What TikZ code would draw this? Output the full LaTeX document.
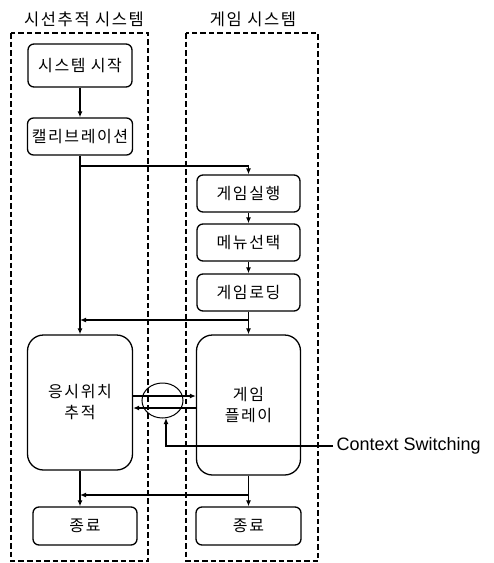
\documentclass[tikz,border=0pt]{standalone}
\usepackage{fontspec}
\setmainfont{Liberation Sans}
\newfontfamily\kr{Noto Sans CJK KR}[LetterSpace=10]
\usetikzlibrary{arrows.meta,shapes.geometric}

\begin{document}
\begin{tikzpicture}[x=1pt,y=-1pt,
  line width=1.3pt,
  arr/.style={-{Latex[length=6pt,width=5pt]}},
  stepbox/.style={draw, rounded corners=6pt, inner sep=0pt,
    font=\kr\fontsize{16}{18}\selectfont},
  bigbox/.style={draw, rounded corners=16pt, inner sep=0pt, align=center,
    font=\kr\fontsize{16}{21}\selectfont},
  sysframe/.style={draw, line width=2pt, dash pattern=on 5.5pt off 3pt},
  systitle/.style={font=\kr\fontsize{16.5}{20}\selectfont}
]
\useasboundingbox (0,0) rectangle (494,563);

% system frames and titles
\draw[sysframe] (11,33) rectangle (148,561);
\draw[sysframe] (186,33) rectangle (318,561);
\node[systitle] (t1) at (84,19) {시선추적 시스템};
\node[systitle] (t2) at (253,19) {게임 시스템};

% eye tracking side
\node[stepbox, minimum width=104pt, minimum height=43pt] (start) at (80,65.5) {시스템 시작};
\node[stepbox, minimum width=105pt, minimum height=37pt] (calib) at (80,136.5) {캘리브레이션};
\node[bigbox, minimum width=105pt, minimum height=135pt] (track) at (80,402.5) {응시위치\\추적};
\node[stepbox, minimum width=104pt, minimum height=38pt] (endL) at (85,526) {종료};

% game side
\node[stepbox, minimum width=103pt, minimum height=37pt] (run) at (248.5,193.5) {게임실행};
\node[stepbox, minimum width=103pt, minimum height=37pt] (menu) at (248.5,242.5) {메뉴선택};
\node[stepbox, minimum width=103pt, minimum height=37pt] (load) at (248.5,292.5) {게임로딩};
\node[bigbox, minimum width=104pt, minimum height=140pt] (play) at (248.5,405) {게임\\플레이};
\node[stepbox, minimum width=105pt, minimum height=38pt] (endR) at (248.5,526) {종료};

% context switching marker
\node[draw, ellipse, line width=1pt, minimum width=41pt, minimum height=35pt, inner sep=0pt] (cs) at (162.5,400.5) {};
\node[anchor=west, inner sep=0pt, font=\fontsize{18}{20}\selectfont] (lbl) at (336,446) {Context Switching};

% junction points
\coordinate (j1) at (80,166);
\coordinate (j2) at (248.5,320);
\coordinate (j3) at (248.5,495);
\coordinate (csin) at (166,418);

% flows
\draw[arr] (start) -- (calib);
\draw[arr] (calib) -- (track);
\draw[arr] (j1) -| (run.north);
\draw[arr] (run) -- (menu);
\draw[arr] (menu) -- (load);
\draw[arr] (load) -- (play);
\draw[arr] (j2) -- (j2 -| track.north);
\draw[arr] (track.south) -- (track.south |- endL.north);
\draw[arr] (play) -- (endR);
\draw[arr] (j3) -- (j3 -| track.south);

% switching between the two systems
\draw[arr] (track.east |- 0,396) -- (play.west |- 0,396);
\draw[arr] (play.west |- 0,408) -- (track.east |- 0,408);
\draw[arr] ([xshift=-3pt]lbl.west) -| (csin);
\end{tikzpicture}
\end{document}
